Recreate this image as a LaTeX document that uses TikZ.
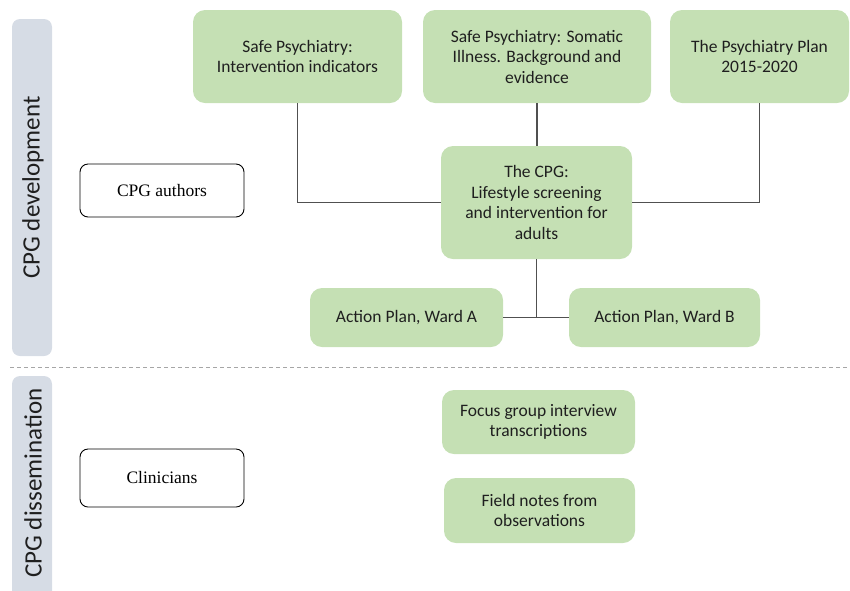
\documentclass[tikz,border=0pt]{standalone}
\usepackage{fontspec}
\setmainfont{Carlito}
\newfontfamily\timesfont{Liberation Serif}
\definecolor{gfill}{HTML}{C5E0B4}
\definecolor{barfill}{HTML}{D6DCE5}
\definecolor{txt}{HTML}{1F1F1F}
\definecolor{linec}{HTML}{505050}
\begin{document}
\begin{tikzpicture}[x=1pt,y=-1pt,
  gbox/.style={fill=gfill, rounded corners=12pt, align=center, text=txt,
    font=\fontsize{17.5}{20.5}\selectfont, inner sep=0pt},
  wbox/.style={draw=black, line width=0.9pt, rounded corners=8pt, align=center,
    font=\timesfont\fontsize{17.5}{20}\selectfont, inner sep=0pt, fill=white},
  bar/.style={fill=barfill, rounded corners=8pt},
  barlabel/.style={rotate=90, text=txt, font=\fontsize{25}{28}\selectfont},
  conn/.style={draw=linec, line width=1.3pt},
  sep/.style={draw=gray!70, line width=1pt, dash pattern=on 4pt off 3pt}]
\useasboundingbox (0,0) rectangle (850,590);
\begin{scope}
\clip (0,0) rectangle (850,590);
\path[bar] (12,19) rectangle (52,356);
\path[bar] (12,376) rectangle (52,620);
\end{scope}
\node[barlabel] (lab1) at (33,187.5) {CPG development};
\node[barlabel] (lab2) at (33,483) {CPG dissemination};
\draw[sep] (10,367) -- (850,367);

\node[wbox, minimum width=164pt, minimum height=53pt] (authors) at (162,190.5) {CPG authors};
\node[wbox, minimum width=164pt, minimum height=58pt] (clin) at (162,478) {Clinicians};

\node[gbox, minimum width=209pt, minimum height=93pt] (b1) at (297.5,56.5) {Safe Psychiatry:\\Intervention indicators};
\node[gbox, minimum width=228pt, minimum height=93pt] (b2) at (537,56.5) {Safe Psychiatry: Somatic\\Illness. Background and\\evidence};
\node[gbox, minimum width=179pt, minimum height=93pt] (b3) at (759.5,56.5) {The Psychiatry Plan\\2015-2020};
\node[gbox, minimum width=191pt, minimum height=113pt] (cpg) at (536.5,202.5) {The CPG:\\Lifestyle screening\\and intervention for\\adults};
\node[gbox, minimum width=193pt, minimum height=59pt] (aA) at (406.5,317.5) {Action Plan, Ward A};
\node[gbox, minimum width=191pt, minimum height=59pt] (aB) at (664.5,317.5) {Action Plan, Ward B};
\node[gbox, minimum width=193pt, minimum height=64pt] (fg) at (538.5,422) {Focus group interview\\transcriptions};
\node[gbox, minimum width=191pt, minimum height=65pt] (fn) at (539.5,510.5) {Field notes from\\observations};

\draw[conn] (b1.south) |- (cpg.west);
\draw[conn] (b2.south) -- (b2.south |- cpg.north);
\draw[conn] (b3.south) |- (cpg.east);
\draw[conn] (aA.east) -- (aB.west);
\draw[conn] (cpg.south) -- (cpg.south |- aA.east);
\end{tikzpicture}
\end{document}
